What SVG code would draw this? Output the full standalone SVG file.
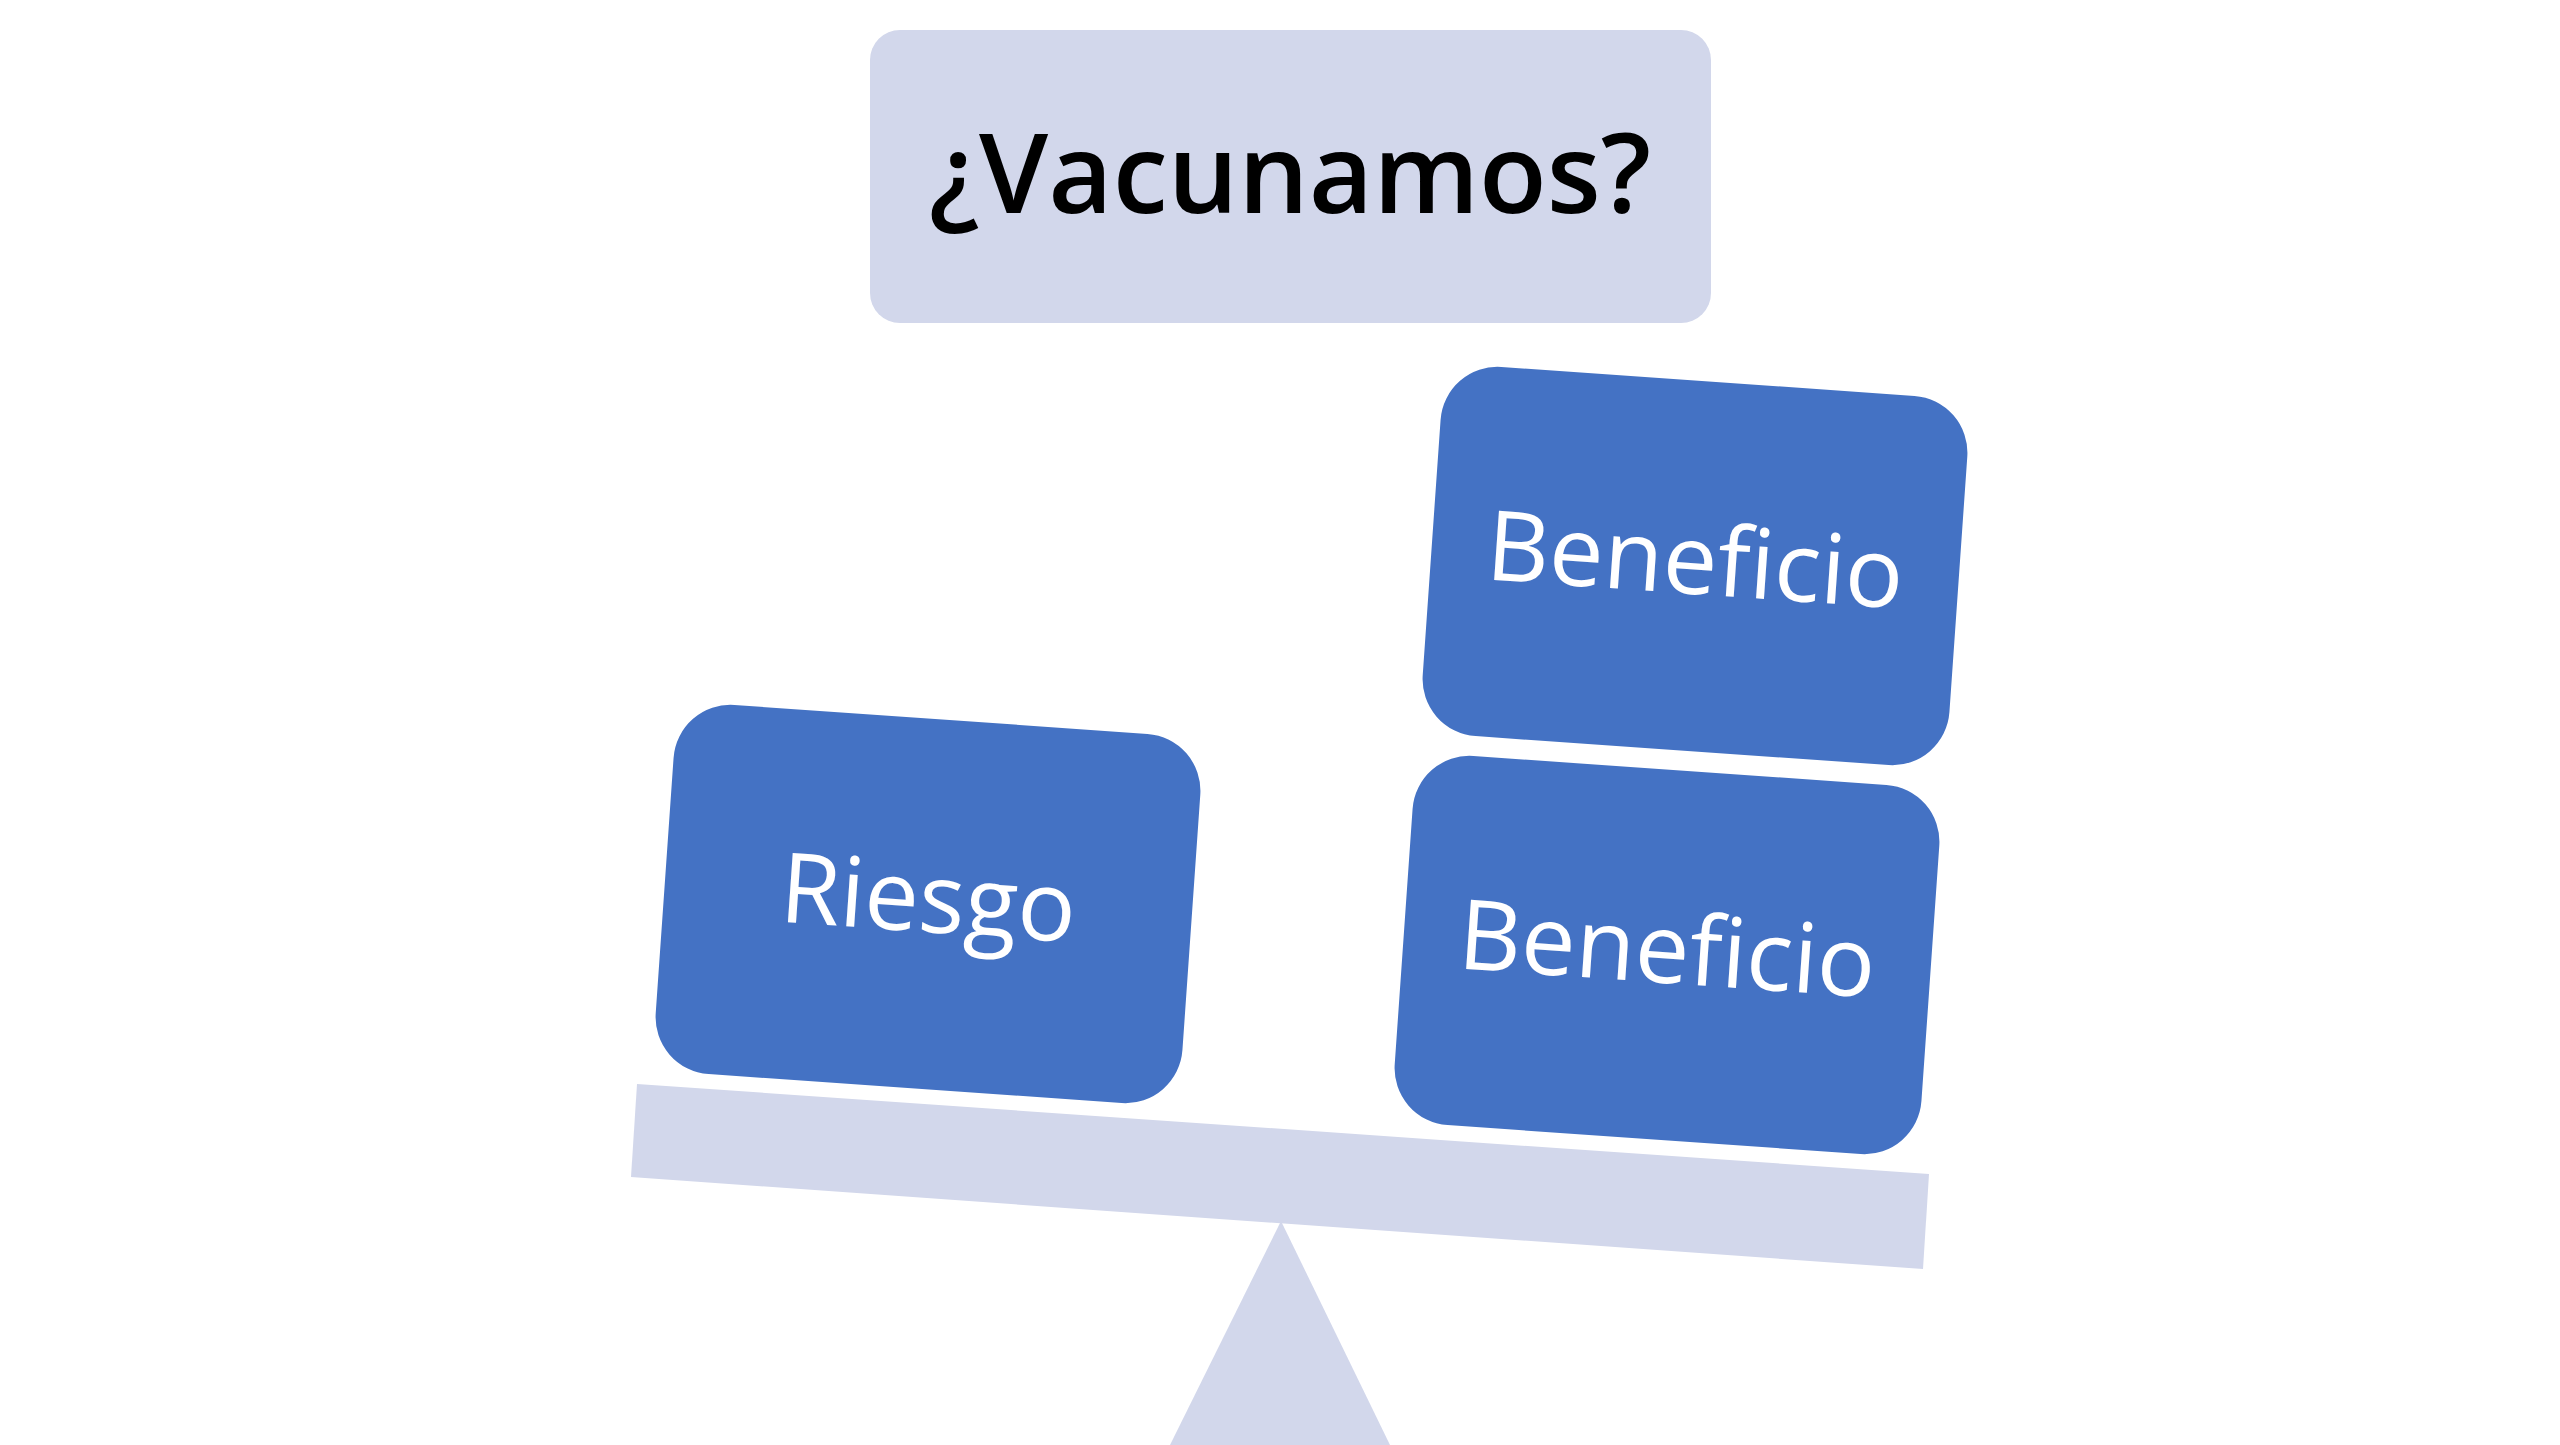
<svg xmlns="http://www.w3.org/2000/svg" width="2560" height="1445" viewBox="0 0 2560 1445">
  <style>
    .light { fill: #D2D7EB; }
    .block { fill: #4472C4; }
    .blocktext { font-family: "Open Sans", "Liberation Sans", sans-serif; font-size: 97px; fill: #FFFFFF; text-anchor: middle; }
    .title { font-family: "Open Sans", "Liberation Sans", sans-serif; font-size: 111px; font-weight: 600; fill: #000000; text-anchor: middle; }
  </style>
  <rect width="2560" height="1445" fill="#FFFFFF"/>
  <g id="fulcrum">
    <polygon class="light" points="1281,1221 1390,1445 1170,1445"/>
  </g>
  <g id="beam">
    <polygon class="light" points="637,1084 1929,1174 1923,1269 631,1177"/>
  </g>
  <g id="title">
    <rect class="light" x="870" y="30" width="841" height="293" rx="30"/>
    <text class="title" x="1290" y="213">¿Vacunamos?</text>
  </g>
  <g id="riesgo" transform="translate(928,904) rotate(4)">
    <rect class="block" x="-264" y="-185" width="528" height="370" rx="57"/>
    <text class="blocktext" x="0" y="28">Riesgo</text>
  </g>
  <g id="beneficio-top" transform="translate(1695,566) rotate(4)">
    <rect class="block" x="-264" y="-185" width="528" height="370" rx="57"/>
    <text class="blocktext" x="0" y="28">Beneficio</text>
  </g>
  <g id="beneficio-bottom" transform="translate(1667,955) rotate(4)">
    <rect class="block" x="-264" y="-185" width="528" height="370" rx="57"/>
    <text class="blocktext" x="0" y="28">Beneficio</text>
  </g>
</svg>
